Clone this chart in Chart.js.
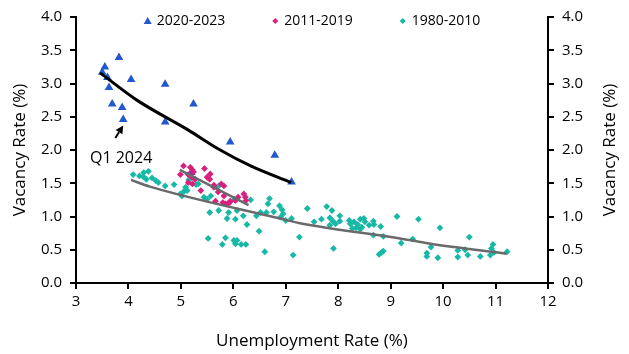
<!DOCTYPE html>
<html>
<head>
<meta charset="utf-8">
<script src="https://cdn.jsdelivr.net/npm/chart.js@4.4.1/dist/chart.umd.min.js"></script>
<style>
html,body{margin:0;padding:0;background:#fff;}
#wrap{position:relative;width:629px;height:354px;}
</style>
</head>
<body>
<div id="wrap"><canvas id="c" width="629" height="354"></canvas></div>
<script>
// ---------- DATA ----------
const seriesNames = ['2020-2023', '2011-2019', '1980-2010'];
const xTitle = 'Unemployment Rate (%)';
const yTitle = 'Vacancy Rate (%)';

const unemp2020 = [3.50,3.55,3.60,3.63,3.69,3.82,3.88,3.90,4.05,4.70,4.70,5.24,5.94,6.79,7.11,5.20];
const vac2020   = [3.17,3.25,3.09,2.94,2.69,3.39,2.64,2.46,3.06,2.99,2.42,2.69,2.12,1.92,1.52,1.66];

const unemp2011 = [4.99,5.05,5.14,5.14,5.18,5.21,5.22,5.22,5.24,5.27,5.38,5.45,5.50,5.55,5.56,5.63,5.63,5.66,5.71,5.77,5.80,5.82,5.82,5.85,5.89,5.93,5.94,6.04,6.09,6.20,6.23,6.24];
const vac2011   = [1.63,1.76,1.63,1.51,1.74,1.59,1.70,1.49,1.67,1.56,1.39,1.72,1.59,1.56,1.64,1.47,1.44,1.23,1.37,1.49,1.21,1.46,1.31,1.19,1.19,1.21,1.23,1.24,1.29,1.34,1.29,1.24];

const unemp1980 = [4.09,4.21,4.28,4.29,4.38,4.34,4.45,4.52,4.57,4.70,4.87,4.99,5.02,5.06,5.09,5.12,5.15,5.29,5.33,5.44,5.50,5.57,5.72,
  5.55,5.72,5.88,5.91,6.04,6.07,6.19,6.26,6.02,6.33,6.44,6.49,6.52,6.63,6.66,6.69,6.77,6.88,6.93,6.95,6.90,7.00,7.11,
  5.52,5.79,5.85,6.01,6.04,6.07,6.15,6.24,6.60,7.14,7.26,
  7.41,7.54,7.68,7.78,7.88,7.84,7.84,7.90,7.95,8.03,8.03,7.91,8.21,8.23,8.30,8.27,8.34,8.37,8.42,8.42,8.45,8.49,8.51,8.59,8.67,8.68,8.81,8.67,8.86,9.12,9.20,8.78,8.83,8.86,
  9.42,9.53,9.69,9.69,9.77,9.90,9.94,10.28,10.28,10.42,10.47,10.50,10.71,10.90,10.92,10.95,10.97,11.22];
const vac1980   = [1.63,1.61,1.60,1.66,1.68,1.56,1.58,1.54,1.51,1.46,1.48,1.34,1.31,1.38,1.44,1.39,1.55,1.48,1.49,1.29,1.26,1.31,1.46,
  1.06,1.09,0.97,1.06,0.96,1.09,1.01,0.88,1.26,1.25,1.01,0.78,1.06,1.06,1.19,1.27,1.07,1.16,1.10,1.04,0.99,0.94,0.97,
  0.67,0.58,0.68,0.64,0.59,0.64,0.58,0.58,0.47,0.42,0.69,
  1.12,0.92,0.96,1.15,1.09,0.98,0.87,0.93,0.89,1.01,0.93,0.52,0.94,0.89,0.92,0.82,0.83,0.88,0.96,0.81,0.84,0.97,0.92,0.87,0.93,0.88,0.85,0.72,0.70,1.00,0.60,0.43,0.46,0.48,
  0.66,0.96,0.45,0.40,0.54,0.38,0.83,0.49,0.39,0.50,0.42,0.69,0.40,0.42,0.52,0.58,0.46,0.47];

// trend lines
const fit2020X = [3.46,4.16,5.12,5.75,6.33,7.10];
const fit2020Y = [3.16,2.75,2.31,2.00,1.76,1.51];
const fit2011X = [4.98,6.29];
const fit2011Y = [1.70,1.17];
const fit1980X = [4.05,4.41,6.89,7.27,9.18,9.76,11.21];
const fit1980Y = [1.55,1.45,0.97,0.90,0.67,0.59,0.44];

const xTicks = [3,4,5,6,7,8,9,10,11,12];
const yTicks = [0,0.5,1,1.5,2,2.5,3,3.5,4];

// annotation
const annoText = 'Q1 2024';
const annoTextPos = [3.86, 1.87];
const annoArrowFrom = [3.75, 2.18];
const annoArrowTo = [3.90, 2.37];

// ---------- STYLE ----------
const FONT = '"Open Sans", "Noto Sans", sans-serif';
const FS = 15, FS_TITLE = 17, FS_ANNO = 16, FS_LEG = 14;
const C_BLUE = '#2157d0', C_PINK = '#d8207f', C_TEAL = '#17b8a5', C_GREY = '#6a6a6a';

const pts = (xs, ys) => xs.map((x, i) => ({x, y: ys[i]}));

const legendPlugin = {
  id: 'customLegend',
  afterDraw(chart) {
    const ctx = chart.ctx, ca = chart.chartArea;
    ctx.save();
    ctx.font = FS_LEG + 'px ' + FONT;
    ctx.textBaseline = 'middle';
    const items = chart.data.datasets.filter(d => d.inLegend);
    const mW = 8, gap = 5, itemGap = 46;
    const widths = items.map(d => mW + gap + ctx.measureText(d.label).width);
    const total = widths.reduce((a, b) => a + b, 0) + itemGap * (items.length - 1);
    let x = (ca.left + ca.right) / 2 - total / 2;
    const y = ca.top + 4;
    items.forEach((d, i) => {
      const cx = x + mW / 2;
      ctx.fillStyle = d.backgroundColor;
      ctx.beginPath();
      if (d.pointStyle === 'triangle') {
        ctx.moveTo(cx, y - 4); ctx.lineTo(cx + 4, y + 3); ctx.lineTo(cx - 4, y + 3);
      } else {
        ctx.moveTo(cx, y - 3); ctx.lineTo(cx + 3, y); ctx.lineTo(cx, y + 3); ctx.lineTo(cx - 3, y);
      }
      ctx.closePath(); ctx.fill();
      ctx.fillStyle = '#000';
      ctx.textAlign = 'left';
      ctx.fillText(d.label, x + mW + gap, y);
      x += widths[i] + itemGap;
    });
    ctx.restore();
  }
};

const annoPlugin = {
  id: 'anno',
  afterDraw(chart) {
    const ctx = chart.ctx, sx = chart.scales.x, sy = chart.scales.y, ca = chart.chartArea;
    ctx.save();
    ctx.font = FS_ANNO + 'px ' + FONT;
    ctx.fillStyle = '#000';
    ctx.textAlign = 'center';
    ctx.textBaseline = 'middle';
    ctx.fillText(annoText, sx.getPixelForValue(annoTextPos[0]), sy.getPixelForValue(annoTextPos[1]));
    const x1 = sx.getPixelForValue(annoArrowFrom[0]), y1 = sy.getPixelForValue(annoArrowFrom[1]);
    const x2 = sx.getPixelForValue(annoArrowTo[0]), y2 = sy.getPixelForValue(annoArrowTo[1]);
    const ang = Math.atan2(y2 - y1, x2 - x1);
    const hl = 8, hw = 4;
    const bx = x2 - hl * Math.cos(ang), by = y2 - hl * Math.sin(ang);
    ctx.strokeStyle = '#000'; ctx.lineWidth = 2;
    ctx.beginPath(); ctx.moveTo(x1, y1); ctx.lineTo(bx, by); ctx.stroke();
    ctx.beginPath();
    ctx.moveTo(x2, y2);
    ctx.lineTo(bx + hw * Math.sin(ang), by - hw * Math.cos(ang));
    ctx.lineTo(bx - hw * Math.sin(ang), by + hw * Math.cos(ang));
    ctx.closePath(); ctx.fill();
    // right axis title (reads bottom to top)
    ctx.font = FS_TITLE + 'px ' + FONT;
    ctx.save();
    ctx.translate(610, (ca.top + ca.bottom) / 2);
    ctx.rotate(-Math.PI / 2);
    ctx.fillText(yTitle, 0, 0);
    ctx.restore();
    ctx.restore();
  }
};

const gridOpts = {display: true, drawOnChartArea: false, drawTicks: true, tickLength: 6, color: '#000', lineWidth: 2};
const borderOpts = {display: true, color: '#000', width: 2};
const tickFont = {family: FONT, size: FS};
const titleFont = {family: FONT, size: FS_TITLE};

new Chart(document.getElementById('c'), {
  type: 'scatter',
  data: {
    datasets: [
      {label: seriesNames[0], inLegend: true, data: pts(unemp2020, vac2020), pointStyle: 'triangle', pointRadius: 5, pointHoverRadius: 5,
       backgroundColor: C_BLUE, borderColor: C_BLUE, borderWidth: 0, order: 4},
      {label: seriesNames[1], inLegend: true, data: pts(unemp2011, vac2011), pointStyle: 'rectRot', pointRadius: 3.4, pointHoverRadius: 3.4,
       backgroundColor: C_PINK, borderColor: C_PINK, borderWidth: 0, order: 2},
      {label: seriesNames[2], inLegend: true, data: pts(unemp1980, vac1980), pointStyle: 'rectRot', pointRadius: 3.4, pointHoverRadius: 3.4,
       backgroundColor: C_TEAL, borderColor: C_TEAL, borderWidth: 0, order: 3},
      {label: 'fit2020', type: 'line', data: pts(fit2020X, fit2020Y), showLine: true, pointRadius: 0, borderColor: '#000', borderWidth: 3,
       cubicInterpolationMode: 'monotone', fill: false, order: 0},
      {label: 'fit2011', type: 'line', data: pts(fit2011X, fit2011Y), showLine: true, pointRadius: 0, borderColor: C_GREY, borderWidth: 2.5,
       fill: false, order: 1},
      {label: 'fit1980', type: 'line', data: pts(fit1980X, fit1980Y), showLine: true, pointRadius: 0, borderColor: C_GREY, borderWidth: 2.5,
       cubicInterpolationMode: 'monotone', fill: false, order: 1}
    ]
  },
  options: {
    responsive: false,
    animation: false,
    events: [],
    layout: {padding: {top: 15, left: 0, right: 0, bottom: 0}},
    plugins: {legend: {display: false}, tooltip: {enabled: false}},
    scales: {
      x: {
        type: 'linear', min: 3, max: 12,
        afterBuildTicks: s => { s.ticks = xTicks.map(v => ({value: v})); },
        ticks: {font: tickFont, color: '#000', padding: 4, callback: v => String(v)},
        grid: gridOpts, border: borderOpts,
        title: {display: true, text: xTitle, font: titleFont, color: '#000', padding: {top: 4, bottom: 3}},
        afterFit: s => { s.height = 71; }
      },
      y: {
        type: 'linear', position: 'left', min: 0, max: 4,
        afterBuildTicks: s => { s.ticks = yTicks.map(v => ({value: v})); },
        ticks: {font: tickFont, color: '#000', padding: 8, callback: v => Number(v).toFixed(1)},
        grid: gridOpts, border: borderOpts,
        title: {display: true, text: yTitle, font: titleFont, color: '#000', padding: {top: 10, bottom: 0}},
        afterFit: s => { s.width = 76; }
      },
      y2: {
        type: 'linear', position: 'right', min: 0, max: 4,
        afterBuildTicks: s => { s.ticks = yTicks.map(v => ({value: v})); },
        ticks: {font: tickFont, color: '#000', padding: 8, callback: v => Number(v).toFixed(1)},
        grid: gridOpts, border: borderOpts,
        afterFit: s => { s.width = 81; }
      }
    }
  },
  plugins: [legendPlugin, annoPlugin]
});
</script>
</body>
</html>
